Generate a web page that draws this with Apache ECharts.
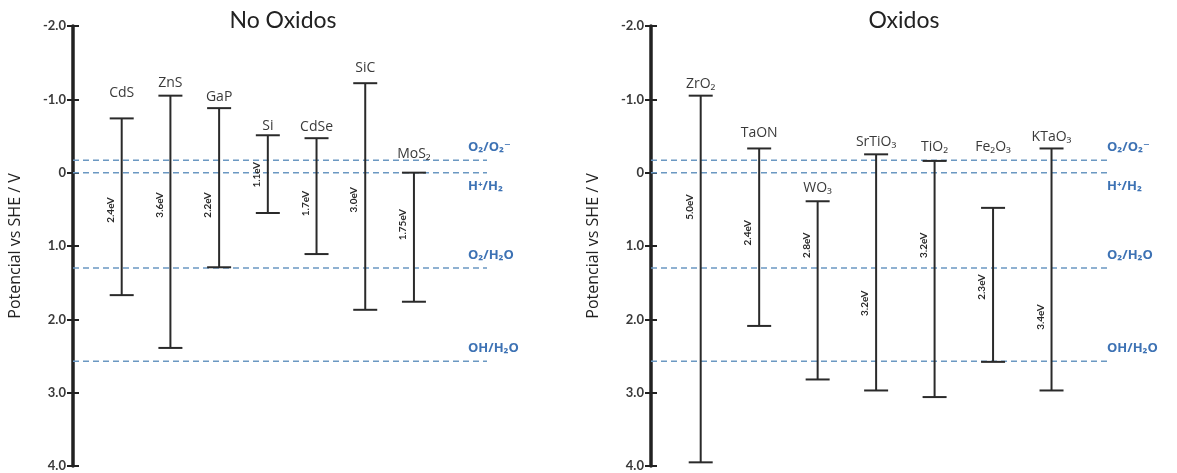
<!DOCTYPE html>
<html>
<head>
<meta charset="utf-8">
<script src="https://cdn.jsdelivr.net/npm/echarts@6/dist/echarts.min.js"></script>
<style>
  html, body { margin: 0; padding: 0; background: #fff; }
  #chart { width: 1177px; height: 473px; }
</style>
</head>
<body>
<div id="chart"></div>
<script>
// band edges vs SHE (V), top = conduction band, bottom = valence band
const leftNames = ['CdS', 'ZnS', 'GaP', 'Si', 'CdSe', 'SiC', 'MoS₂']
const leftTop = [-0.74, -1.05, -0.88, -0.51, -0.47, -1.22, 0.0]
const leftBottom = [1.67, 2.39, 1.29, 0.55, 1.11, 1.87, 1.76]
const leftGap = ['2.4eV', '3.6eV', '2.2eV', '1.1eV', '1.7eV', '3.0eV', '1.75eV']

const rightNames = ['ZrO₂', 'TaON', 'WO₃', 'SrTiO₃', 'TiO₂', 'Fe₂O₃', 'KTaO₃']
const rightTop = [-1.05, -0.33, 0.39, -0.25, -0.16, 0.48, -0.33]
const rightBottom = [3.95, 2.09, 2.82, 2.97, 3.06, 2.58, 2.97]
const rightGap = ['5.0eV', '2.4eV', '2.8eV', '3.2eV', '3.2eV', '2.3eV', '3.4eV']

const refNames = ['O₂/O₂⁻', 'H⁺/H₂', 'O₂/H₂O', 'OH/H₂O']
const refLevels = [-0.17, 0.0, 1.30, 2.57]

const yTicks = [-2, -1, 0, 1, 2, 3, 4]

// layout tweaks (label placement only)
const leftGapAt = [0.51, 0.44, 0.44, 0.03, 0.42, 0.37, 0.71]
const rightGapAt = [0.47, 0.82, 0.99, 1.78, 0.99, 1.56, 1.97]
const leftNameLift = [25, 13, 11, 9, 11, 15, 19]
const rightNameLift = [12, 15, 13, 12, 14, 61, 11]
const refLabelDy = [-13, 14, -13, -13]

const dark = '#2a2a2a'
const refBlue = '#3d72b4'
const dashBlue = '#6b98c2'
const font = 'Lato, "Open Sans", "DejaVu Sans", sans-serif'
const openFont = '"Open Sans", "DejaVu Sans", sans-serif'

var myChart = echarts.init(document.getElementById('chart'))

function barSeries(idx, names, tops, bottoms, gaps, gapAt, lift) {
  return {
    type: 'custom',
    xAxisIndex: idx,
    yAxisIndex: idx * 2,
    data: tops.map((t, i) => [i + 1, t, bottoms[i]]),
    encode: { x: 0, y: [1, 2] },
    renderItem: (params, api) => {
      var i = params.dataIndex
      var p1 = api.coord([api.value(0), api.value(1)])
      var p2 = api.coord([api.value(0), api.value(2)])
      var pg = api.coord([api.value(0), gapAt[i]])
      var half = 12
      return {
        type: 'group',
        children: [
          { type: 'line', shape: { x1: p1[0], y1: p1[1], x2: p2[0], y2: p2[1] }, style: { stroke: dark, lineWidth: 2 } },
          { type: 'line', shape: { x1: p1[0] - half, y1: p1[1], x2: p1[0] + half, y2: p1[1] }, style: { stroke: dark, lineWidth: 2 } },
          { type: 'line', shape: { x1: p2[0] - half, y1: p2[1], x2: p2[0] + half, y2: p2[1] }, style: { stroke: dark, lineWidth: 2 } },
          {
            type: 'text', x: p1[0], y: p1[1] - lift[i],
            style: { text: names[i], fill: '#3a3a3a', font: '14px ' + openFont, align: 'center', verticalAlign: 'middle' }
          },
          {
            type: 'text', x: pg[0] - 11, y: pg[1], rotation: Math.PI / 2,
            style: { text: gaps[i], fill: '#2a2a2a', font: 'bold 10px ' + font, align: 'center', verticalAlign: 'middle' }
          }
        ]
      }
    }
  }
}

function refSeries(idx, labelDx) {
  return {
    type: 'custom',
    xAxisIndex: idx,
    yAxisIndex: idx * 2,
    data: refLevels.map((v, i) => [1, v]),
    encode: { x: 0, y: 1 },
    renderItem: (params, api) => {
      var i = params.dataIndex
      var cs = params.coordSys
      var p = api.coord([api.value(0), api.value(1)])
      var xEnd = cs.x + cs.width
      return {
        type: 'group',
        children: [
          {
            type: 'line', shape: { x1: cs.x, y1: p[1], x2: xEnd, y2: p[1] },
            style: { stroke: dashBlue, lineWidth: 1.5, lineDash: [6, 4] }, z2: 0
          },
          {
            type: 'text', x: xEnd + labelDx, y: p[1] + refLabelDy[i],
            style: { text: refNames[i], fill: refBlue, font: 'bold 13px ' + openFont, align: 'left', verticalAlign: 'middle' }
          }
        ]
      }
    }
  }
}

function mainY(gridIndex) {
  return {
    type: 'value',
    gridIndex: gridIndex,
    position: 'left',
    inverse: true,
    min: yTicks[0],
    max: yTicks[yTicks.length - 1],
    interval: 1,
    name: 'Potencial vs SHE / V',
    nameLocation: 'middle',
    nameGap: 50,
    nameTextStyle: { fontSize: 16, color: '#222', fontFamily: openFont },
    axisLine: { show: true, lineStyle: { color: '#222', width: 3.5 } },
    axisTick: { show: true, length: 6, lineStyle: { color: '#222', width: 2 } },
    axisLabel: {
      margin: 7,
      fontSize: 13,
      fontWeight: 'bold',
      color: '#3a3a3a',
      fontFamily: font,
      formatter: (v) => v === 0 ? '0' : v.toFixed(1)
    },
    splitLine: { show: false }
  }
}

function innerY(gridIndex) {
  return {
    type: 'value',
    gridIndex: gridIndex,
    position: 'left',
    inverse: true,
    min: yTicks[0],
    max: yTicks[yTicks.length - 1],
    interval: 1,
    axisLine: { show: false },
    axisTick: { show: true, inside: true, length: 6, lineStyle: { color: '#222', width: 2 } },
    axisLabel: { show: false },
    splitLine: { show: false }
  }
}

const option = {
  animation: false,
  backgroundColor: '#fff',
  title: [
    { text: 'No Oxidos', left: 283, top: 9, padding: 0, textAlign: 'center', textStyle: { fontSize: 23, fontWeight: 'normal', color: '#222', fontFamily: font } },
    { text: 'Oxidos', left: 904, top: 9, padding: 0, textAlign: 'center', textStyle: { fontSize: 23, fontWeight: 'normal', color: '#222', fontFamily: font } }
  ],
  grid: [
    { left: 73, top: 26, width: 414, height: 440 },
    { left: 651, top: 26, width: 459, height: 440 }
  ],
  xAxis: [
    { type: 'value', gridIndex: 0, min: 0, max: 8.5, show: false },
    { type: 'value', gridIndex: 1, min: 0.15, max: 8, show: false }
  ],
  yAxis: [mainY(0), innerY(0), mainY(1), innerY(1)],
  series: [
    refSeries(0, -19),
    refSeries(1, -3),
    barSeries(0, leftNames, leftTop, leftBottom, leftGap, leftGapAt, leftNameLift),
    barSeries(1, rightNames, rightTop, rightBottom, rightGap, rightGapAt, rightNameLift)
  ]
}

myChart.setOption(option)
</script>
</body>
</html>
